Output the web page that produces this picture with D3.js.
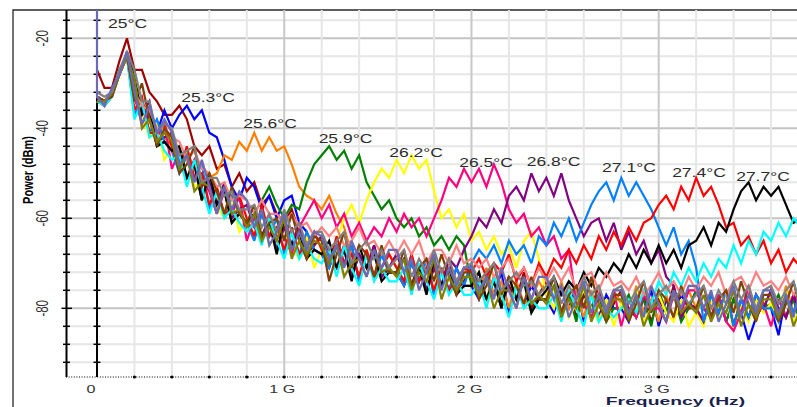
<!DOCTYPE html>
<html lang="en">
  <head>
    <meta charset="utf-8" />
    <title>Spectrum vs temperature</title>
    <script src="https://d3js.org/d3.v7.min.js"></script>
    <style>
      body { margin: 0; background: #fff; }
      svg { display: block; }
    </style>
  </head>
  <body>
    <div class="chart"></div>
    <script>
      let w = 797;
      let h = 407;

      // analyser sweep grid (GHz)
      let fStep = 0.04;
      let freqs = d3.range(95).map((i) => i * fStep);

      // traces in dBm, one value per grid point
      let t250 = [
        -27,-31,-31,-25,-20,-27,-27,-32,-34,-37,
        -37,-35,-38,-44,-46,-44,-49,-48,-53,-50,
        -54,-52,-57,-55,-59,-61,-58,-63,-65,-66,
        -64,-68,-71,-66,-73,-68,-71,-66,-73,-71,
        -68,-72,-75,-70,-76,-71,-75,-69,-76,-74,
        -71,-75,-78,-73,-79,-75,-78,-72,-80,-77,
        -74,-78,-81,-76,-82,-77,-80,-75,-82,-79,
        -76,-80,-82,-77,-83,-78,-81,-75,-82,-79,
        -80,-83,-77,-81,-76,-84,-78,-82,-77,-80,
        -76,-80,-82,-77,-83
      ];
      let t253 = [
        -33,-34,-33,-27,-24,-32,-36,-38,-41,-36,
        -40,-37,-35,-38,-36,-41,-42,-47,-53,-56,
        -51,-53,-58,-55,-60,-56,-55,-61,-63,-67,
        -68,-71,-66,-70,-66,-74,-68,-73,-68,-72,
        -72,-75,-70,-74,-69,-77,-72,-76,-71,-75,
        -75,-78,-73,-77,-72,-81,-75,-79,-75,-78,
        -78,-81,-76,-80,-75,-83,-77,-82,-77,-80,
        -80,-83,-77,-81,-76,-84,-78,-82,-77,-80,
        -76,-80,-82,-77,-83,-78,-81,-87,-82,-79,
        -80,-86,-77,-81,-76
      ];
      let t256 = [
        -33,-35,-32,-27,-24,-31,-35,-37,-41,-42,
        -44,-46,-45,-49,-48,-51,-50,-46,-47,-43,
        -45,-41,-45,-42,-45,-44,-48,-53,-55,-56,
        -58,-55,-59,-62,-68,-73,-67,-73,-71,-68,
        -71,-74,-68,-74,-71,-76,-71,-76,-74,-71,
        -74,-77,-71,-77,-74,-80,-74,-79,-78,-74,
        -77,-80,-74,-80,-77,-82,-76,-82,-80,-76,
        -79,-82,-75,-81,-78,-83,-77,-82,-80,-76,
        -80,-83,-77,-81,-76,-84,-78,-82,-77,-80,
        -79,-82,-75,-81,-78
      ];
      let t259 = [
        -33,-34,-32,-28,-23,-29,-37,-36,-44,-43,
        -45,-44,-51,-48,-56,-50,-57,-54,-61,-59,
        -61,-59,-56,-53,-57,-60,-57,-58,-52,-48,
        -46,-44,-47,-45,-49,-46,-52,-55,-58,-56,
        -60,-62,-60,-64,-62,-66,-64,-67,-64,-66,
        -75,-72,-78,-74,-80,-73,-78,-74,-81,-78,
        -78,-75,-81,-77,-83,-75,-80,-77,-83,-80,
        -80,-77,-82,-78,-84,-76,-81,-77,-83,-80,
        -76,-80,-82,-77,-83,-78,-81,-75,-82,-79,
        -80,-77,-82,-78,-84
      ];
      let t262 = [
        -34,-35,-33,-28,-24,-30,-37,-42,-39,-47,
        -44,-49,-45,-53,-52,-51,-57,-60,-56,-63,
        -60,-64,-58,-66,-64,-61,-66,-69,-64,-71,
        -67,-70,-65,-60,-57,-61,-56,-52,-49,-51,
        -47,-50,-46,-49,-47,-54,-60,-58,-62,-59,
        -65,-63,-67,-64,-68,-66,-71,-65,-63,-69,
        -77,-80,-75,-82,-79,-76,-80,-83,-78,-84,
        -79,-82,-76,-83,-80,-77,-81,-83,-78,-84,
        -81,-84,-78,-82,-77,-85,-79,-83,-78,-81,
        -79,-82,-76,-83,-80
      ];
      let t265 = [
        -34,-35,-33,-28,-24,-33,-39,-36,-42,-39,
        -49,-45,-51,-47,-52,-54,-59,-54,-59,-55,
        -65,-60,-64,-60,-64,-64,-68,-62,-59,-56,
        -60,-57,-62,-59,-64,-61,-65,-62,-64,-60,
        -63,-59,-62,-60,-64,-60,-56,-51,-53,-49,
        -52,-49,-53,-48,-52,-58,-61,-59,-64,-62,
        -66,-64,-69,-67,-79,-79,-82,-77,-81,-76,
        -84,-78,-82,-77,-80,-80,-83,-77,-81,-76,
        -76,-80,-82,-77,-83,-85,-81,-75,-82,-79,
        -84,-78,-82,-77,-80
      ];
      let t268 = [
        -33,-34,-32,-28,-24,-31,-37,-34,-43,-42,
        -41,-47,-51,-47,-55,-52,-57,-52,-60,-58,
        -57,-62,-64,-60,-67,-62,-66,-61,-68,-66,
        -64,-68,-71,-66,-73,-68,-71,-66,-73,-71,
        -68,-72,-75,-70,-76,-71,-75,-69,-71,-67,
        -64,-60,-62,-58,-61,-55,-53,-56,-50,-54,
        -51,-55,-50,-56,-60,-64,-61,-60,-65,-61,
        -67,-63,-68,-65,-70,-67,-73,-75,-82,-79,
        -80,-83,-77,-81,-76,-84,-78,-82,-77,-80,
        -76,-80,-82,-77,-83
      ];
      let t271 = [
        -33,-35,-32,-27,-24,-37,-34,-41,-38,-43,
        -45,-50,-46,-51,-48,-58,-54,-59,-55,-59,
        -61,-65,-59,-64,-60,-68,-63,-68,-63,-67,
        -68,-71,-66,-70,-66,-74,-68,-73,-68,-72,
        -72,-75,-70,-74,-69,-77,-72,-76,-71,-75,
        -70,-67,-69,-66,-70,-65,-68,-66,-70,-64,
        -66,-61,-64,-60,-65,-61,-57,-54,-52,-56,
        -51,-55,-52,-55,-58,-62,-66,-62,-68,-65,
        -71,-83,-77,-81,-76,-84,-78,-82,-77,-80,
        -80,-83,-77,-81,-76
      ];
      let t274 = [
        -33,-34,-32,-28,-24,-36,-33,-41,-41,-39,
        -44,-49,-44,-51,-50,-57,-53,-59,-58,-55,
        -60,-64,-57,-64,-62,-67,-62,-68,-66,-63,
        -67,-70,-64,-70,-68,-73,-67,-73,-71,-68,
        -71,-74,-68,-74,-71,-76,-71,-76,-74,-71,
        -72,-69,-73,-70,-72,-68,-74,-71,-75,-70,
        -73,-69,-71,-67,-70,-66,-69,-64,-67,-63,
        -66,-62,-65,-61,-60,-57,-55,-58,-53,-56,
        -51,-55,-53,-57,-62,-61,-66,-64,-68,-65,
        -70,-67,-72,-69,-71
      ];
      let t277 = [
        -33,-34,-32,-28,-23,-29,-37,-36,-44,-43,
        -45,-44,-51,-48,-56,-50,-57,-54,-61,-59,
        -61,-59,-64,-61,-68,-60,-66,-63,-69,-67,
        -68,-65,-71,-67,-74,-66,-71,-68,-74,-72,
        -72,-69,-75,-71,-77,-69,-75,-71,-77,-75,
        -75,-72,-78,-74,-80,-73,-78,-74,-81,-78,
        -76,-73,-77,-74,-76,-72,-75,-71,-73,-70,
        -72,-68,-71,-67,-70,-66,-70,-67,-71,-66,
        -65,-62,-66,-61,-63,-58,-54,-52,-56,-53,
        -55,-53,-57,-61,-60
      ];
      let cyanTrace = [
        -34,-35,-33,-28,-24,-38,-34,-42,-41,-45,
        -47,-46,-53,-47,-53,-59,-54,-60,-58,-61,
        -63,-61,-66,-60,-65,-69,-63,-69,-66,-69,
        -70,-67,-73,-66,-71,-75,-68,-74,-71,-74,
        -74,-71,-77,-70,-74,-78,-72,-77,-74,-77,
        -77,-74,-80,-73,-77,-82,-75,-80,-78,-80,
        -80,-77,-83,-76,-80,-84,-77,-83,-80,-82,
        -80,-78,-81,-76,-79,-74,-77,-72,-75,-71,
        -74,-70,-73,-69,-71,-66,-70,-65,-68,-63,
        -65,-61,-64,-60,-62
      ];
      let salmonTrace = [
        -33,-34,-32,-28,-24,-32,-35,-36,-40,-40,
        -42,-43,-47,-45,-49,-50,-53,-52,-56,-55,
        -56,-59,-56,-59,-59,-61,-59,-62,-61,-64,
        -62,-64,-62,-66,-65,-62,-66,-65,-68,-65,
        -68,-65,-68,-65,-70,-67,-67,-70,-66,-70,
        -69,-71,-69,-73,-71,-69,-73,-71,-75,-71,
        -74,-71,-74,-71,-76,-73,-72,-76,-72,-75,
        -74,-76,-73,-77,-75,-72,-76,-74,-77,-73,
        -76,-73,-75,-72,-77,-74,-73,-76,-72,-75,
        -74,-76,-73,-77,-75
      ];
      let brownTrace = [
        -33,-34,-33,-28,-24,-34,-30,-38,-44,-40,
        -42,-50,-48,-44,-53,-50,-54,-59,-53,-59,
        -61,-57,-64,-61,-60,-65,-59,-65,-69,-64,
        -65,-74,-68,-63,-71,-66,-68,-73,-66,-72,
        -72,-67,-75,-71,-69,-74,-68,-73,-77,-72,
        -72,-78,-75,-70,-77,-73,-75,-79,-73,-78,
        -78,-73,-81,-77,-75,-80,-73,-79,-83,-77,
        -77,-83,-79,-74,-81,-76,-78,-82,-75,-80,
        -80,-75,-82,-78,-76,-81,-74,-79,-83,-77,
        -77,-83,-79,-74,-81
      ];
      let oliveTrace = [
        -34,-34,-32,-28,-24,-29,-40,-38,-43,-41,
        -43,-49,-46,-54,-52,-53,-59,-53,-59,-58,
        -62,-59,-65,-62,-65,-60,-69,-65,-68,-65,
        -66,-70,-66,-73,-70,-69,-73,-67,-72,-71,
        -73,-69,-76,-72,-74,-69,-78,-73,-76,-73,
        -73,-77,-73,-80,-76,-76,-80,-73,-79,-77,
        -79,-75,-82,-78,-80,-75,-83,-79,-82,-78,
        -78,-82,-77,-84,-80,-79,-83,-76,-81,-79,
        -81,-77,-83,-79,-81,-76,-84,-79,-82,-78,
        -78,-82,-77,-84,-80
      ];
      let grayTrace = [
        -32,-33,-32,-27,-23,-27,-34,-34,-41,-39,
        -40,-46,-45,-44,-52,-51,-51,-55,-54,-58,
        -58,-57,-62,-59,-63,-58,-63,-61,-66,-63,
        -63,-67,-65,-63,-70,-67,-65,-69,-67,-71,
        -69,-67,-73,-69,-72,-67,-72,-69,-74,-71,
        -70,-74,-72,-70,-76,-74,-72,-75,-74,-77,
        -75,-73,-79,-75,-78,-73,-77,-75,-80,-76,
        -75,-79,-76,-74,-80,-77,-75,-78,-76,-79,
        -77,-75,-80,-76,-79,-74,-78,-75,-80,-76,
        -75,-79,-76,-74,-80
      ];
      let slateTrace = [
        -33,-35,-31,-28,-23,-32,-39,-35,-41,-38,
        -41,-48,-46,-52,-47,-53,-59,-53,-58,-54,
        -56,-62,-58,-66,-63,-59,-67,-63,-67,-63,
        -64,-69,-66,-71,-65,-69,-73,-67,-71,-67,
        -67,-72,-69,-76,-72,-68,-76,-71,-75,-71,
        -71,-76,-73,-78,-71,-76,-80,-73,-78,-73,
        -73,-78,-75,-82,-78,-74,-81,-77,-81,-76,
        -76,-81,-77,-82,-75,-79,-83,-76,-80,-75,
        -75,-80,-76,-83,-79,-75,-82,-77,-81,-76,
        -76,-81,-77,-82,-75
      ];
      let slateDc = -8; // DC spike at 0 Hz

      let traces = [t250, t253, t256, t259, t262, t265, t268, t271, t274, t277,
        cyanTrace, salmonTrace, brownTrace, oliveTrace, grayTrace, slateTrace];
      let traceColors = ["#9c0000", "#0000ff", "#ff8000", "#008000", "#ffff00",
        "#ff0080", "#800080", "#0080ff", "#ff0000", "#000000",
        "#00ffff", "#ff8080", "#804000", "#808000", "#808080", "#6a6ab6"];

      let labelTexts = ["25°C", "25.3°C", "25.6°C", "25.9°C", "26.2°C",
        "26.5°C", "26.8°C", "27.1°C", "27.4°C", "27.7°C"];
      let labelFreq = [0.163, 0.593, 0.924, 1.327, 1.704, 2.078, 2.438, 2.841, 3.215, 3.557];
      let labelDbm = [-16.8, -33.2, -38.9, -42.2, -45.3, -47.5, -47.4, -48.6, -49.9, -50.6];

      let yTickLabels = [-20, -40, -60, -80];
      let xTickValues = [0, 1, 2, 3];
      let xTickLabels = ["0", "1 G", "2 G", "3 G"];

      let plotLeft = 66, plotTop = 10, plotBottom = 377;
      let x = d3.scaleLinear().domain([0, 3]).range([97, 658.7]);
      let y = d3.scaleLinear().domain([-20, -80]).range([38.3, 308.3]);
      let stretch = 1.4;

      let svg = d3.select(".chart").append("svg")
        .attr("width", w).attr("height", h);

      svg.append("defs").append("clipPath").attr("id", "plot")
        .append("rect")
        .attr("x", plotLeft).attr("y", plotTop)
        .attr("width", w - plotLeft).attr("height", plotBottom - plotTop);

      // outer frame
      svg.append("path")
        .attr("d", `M13,${h} L13,10 L${w},10`)
        .attr("fill", "none").attr("stroke", "#2a2a2a").attr("stroke-width", 1.3);

      // grid
      let grid = svg.append("g").attr("clip-path", "url(#plot)");
      let hTicks = d3.range(-16, -96, -4);
      grid.selectAll(".hg").data(hTicks).join("line")
        .attr("x1", plotLeft).attr("x2", w)
        .attr("y1", (d) => y(d)).attr("y2", (d) => y(d))
        .attr("stroke", (d) => (d % 20 === 0 ? "#c4c4c4" : "#e6e6e6"))
        .attr("stroke-width", 2);
      let vTicks = d3.range(1, 19).map((i) => i * 0.2);
      grid.selectAll(".vg").data(vTicks).join("line")
        .attr("x1", (d) => x(d)).attr("x2", (d) => x(d))
        .attr("y1", plotTop).attr("y2", plotBottom)
        .attr("stroke", (d) => (Math.abs(d - Math.round(d)) < 1e-6 ? "#c8c8c8" : "#e6e6e6"))
        .attr("stroke-width", 2);

      // y axis and 0 Hz line, both with ticks
      [plotLeft + 0.5, x(0)].forEach(function (ax, k) {
        svg.append("line")
          .attr("x1", ax).attr("x2", ax).attr("y1", plotTop).attr("y2", plotBottom)
          .attr("stroke", "#000").attr("stroke-width", 2);
        svg.selectAll(null).data(hTicks).join("line")
          .attr("x1", (d) => ax - (k === 0 && d % 20 === 0 ? 5 : 3.5))
          .attr("x2", (d) => ax + (k === 0 && d % 20 === 0 ? 5.5 : 3.5))
          .attr("y1", (d) => y(d)).attr("y2", (d) => y(d))
          .attr("stroke", "#000").attr("stroke-width", 1.5);
      });

      // traces
      let line = d3.line()
        .x((d) => x(d[0]))
        .y((d) => y(d[1]));
      let traceG = svg.append("g").attr("clip-path", "url(#plot)");
      traces.forEach(function (vals, k) {
        let pts = vals.map((v, i) => [freqs[i], v]);
        if (vals === slateTrace) pts.unshift([0, slateDc]);
        traceG.append("path")
          .attr("d", line(pts))
          .attr("fill", "none")
          .attr("stroke", traceColors[k])
          .attr("stroke-width", 2.2)
          .attr("stroke-linejoin", "miter")
          .attr("stroke-miterlimit", 3);
      });

      // bottom axis: dotted with dots at grid lines
      svg.append("line")
        .attr("x1", plotLeft).attr("x2", w).attr("y1", plotBottom).attr("y2", plotBottom)
        .attr("stroke", "#000").attr("stroke-width", 1.2)
        .attr("stroke-dasharray", "1,1.6");
      svg.selectAll(".dot").data(vTicks).join("circle")
        .attr("cx", (d) => x(d)).attr("cy", plotBottom).attr("r", 1.6).attr("fill", "#000");

      // y tick labels
      svg.selectAll(".yl").data(yTickLabels).join("text")
        .attr("transform", (d) => `translate(48,${y(d)}) scale(${stretch},1) rotate(-90)`)
        .attr("text-anchor", "middle")
        .style("font", "11.5px 'Liberation Sans', Arial, sans-serif")
        .attr("fill", "#333")
        .text((d) => d);

      // x tick labels
      svg.selectAll(".xl").data(xTickValues).join("text")
        .attr("transform", (d) => `translate(${x(d) - (d === 0 ? 6 : 2)},393) scale(${stretch},1)`)
        .attr("text-anchor", "middle")
        .style("font", "11.5px 'Liberation Sans', Arial, sans-serif")
        .attr("fill", "#333")
        .text((d, i) => xTickLabels[i]);

      // temperature labels
      svg.selectAll(".tl").data(labelTexts).join("text")
        .attr("transform", (d, i) => `translate(${x(labelFreq[i])},${y(labelDbm[i])}) scale(${stretch},1)`)
        .attr("text-anchor", "middle")
        .attr("dy", "0.36em")
        .style("font", "12.5px 'Liberation Sans', Arial, sans-serif")
        .attr("fill", "#2b2b2b")
        .text((d) => d);

      // axis titles
      svg.append("text")
        .attr("transform", `translate(33,170) scale(${stretch},1) rotate(-90)`)
        .attr("text-anchor", "middle")
        .style("font", "bold 11px 'Liberation Sans', Arial, sans-serif")
        .attr("fill", "#000")
        .text("Power (dBm)");
      svg.append("text")
        .attr("transform", "translate(675.5,404.5) scale(1.68,1)")
        .attr("text-anchor", "middle")
        .style("font", "bold 11.5px 'Liberation Sans', Arial, sans-serif")
        .attr("fill", "#1b1f50")
        .text("Frequency (Hz)");
    </script>
  </body>
</html>
